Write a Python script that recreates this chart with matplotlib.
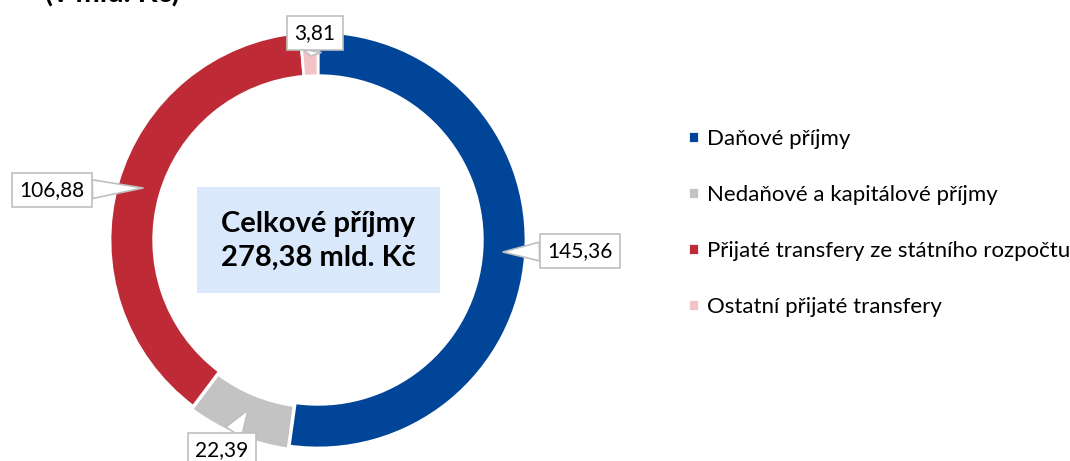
import matplotlib
matplotlib.use("Agg")
import matplotlib.pyplot as plt

categories = ["Daňové příjmy", "Nedaňové a kapitálové příjmy",
              "Přijaté transfery ze státního rozpočtu", "Ostatní přijaté transfery"]
values = [145.36, 22.39, 106.88, 3.81]
value_labels = ["145,36", "22,39", "106,88", "3,81"]
colors = ["#004597", "#C3C3C3", "#BE2A35", "#F4C3C7"]
explode = [0, 0.015, 0, 0]
total_label = "Celkové příjmy\n278,38 mld. Kč"
title = "(v mld. Kč)"

plt.rcParams['font.family'] = ['Lato', 'DejaVu Sans']

W, H = 1070, 461
fig = plt.figure(figsize=(W / 100, H / 100), dpi=100)

cx, cy, R = 318, 240, 208
half = 260
ax = fig.add_axes([(cx - half) / W, (H - cy - half) / H, 2 * half / W, 2 * half / H])
ax.set_xlim(-half / R, half / R)
ax.set_ylim(-half / R, half / R)
ax.set_aspect('equal')
ax.axis('off')

wedges, _ = ax.pie(values, colors=colors, startangle=90, counterclock=False,
                   radius=1.0, explode=explode,
                   wedgeprops=dict(width=0.21, edgecolor='white', linewidth=2))

def px2d(px, py):
    return ((px - cx) / R, (cy - py) / R)

# callout labels: (box center px, tip px)
label_pos = [((580, 251), (503, 252)),
             ((222, 450), (248, 410)),
             ((52, 190), (143, 188)),
             ((315, 33), (311, 56))]
for lab, (bc, tip) in zip(value_labels, label_pos):
    ax.annotate(lab, xy=px2d(*tip), xytext=px2d(*bc), ha='center', va='center',
                fontsize=15, color='black',
                bbox=dict(boxstyle='square,pad=0.35', fc='white', ec='#BFBFBF', lw=1.2),
                arrowprops=dict(arrowstyle='wedge,tail_width=0.9', fc='white', ec='#BFBFBF',
                                lw=1.2, shrinkA=0, shrinkB=0),
                annotation_clip=False)

# center box
bx0, by0 = px2d(197, 293)
bx1, by1 = px2d(440, 187)
ax.add_patch(plt.Rectangle((bx0, by0), bx1 - bx0, by1 - by0, fc='#DAE8FC', ec='none', zorder=1))
ax.text(*px2d(318.5, 241), total_label, ha='center', va='center', fontsize=21,
        fontweight='bold', linespacing=1.35, zorder=2)

fig.text(45 / W, (H - 2) / H, title, ha='left', va='baseline', fontsize=21, fontweight='bold')

leg = fig.legend(wedges, categories, loc='center left',
                 bbox_to_anchor=(688 / W, (H - 223) / H), frameon=False,
                 fontsize=16, handlelength=0.5, handleheight=0.5,
                 handletextpad=0.35, labelspacing=1.62, borderaxespad=0, borderpad=0)

fig.savefig("out.png", dpi=100)
